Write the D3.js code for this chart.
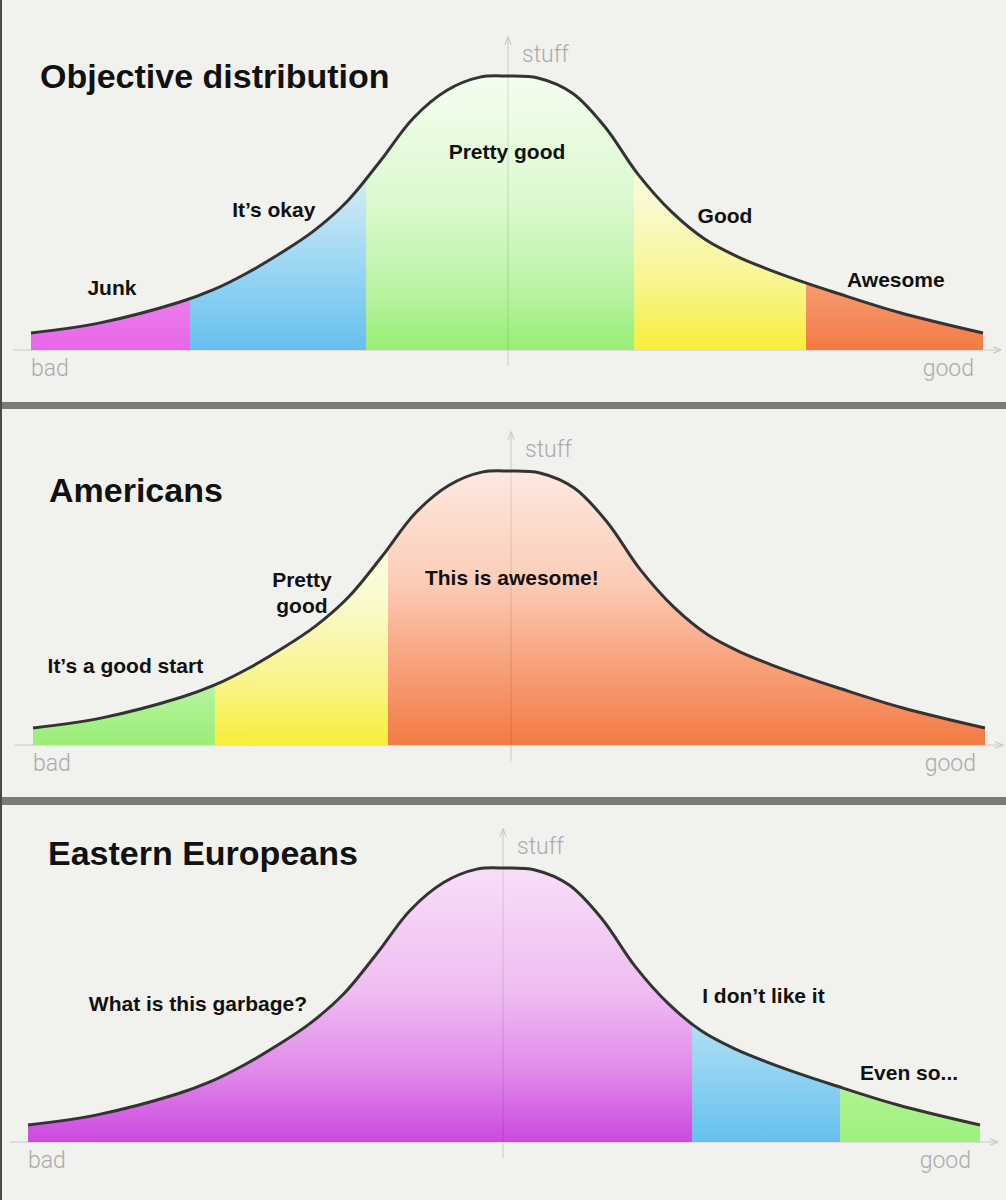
<!DOCTYPE html>
<html>
<head>
<meta charset="utf-8">
<script src="https://cdn.jsdelivr.net/npm/d3@7"></script>
<style>
body{margin:0;background:#f1f1ee}
</style>
</head>
<body>
<script>
// the bell curve (quality -1..1, stuff 0..100)
var quality = [-1, -0.855, -0.687, -0.618, -0.546, -0.477, -0.408, -0.336, -0.267, -0.197, -0.126, -0.057, 0,
               0.065, 0.137, 0.206, 0.275, 0.347, 0.416, 0.485, 0.557, 0.626, 0.689, 0.826, 1]
var stuff   = [6.2, 9.9, 17.5, 21.9, 28.1, 35.2, 43.2, 54.2, 68.8, 84.6, 94.8, 99.6, 100,
               99.3, 93.8, 81.4, 64.2, 50.2, 40.4, 34.0, 28.9, 24.6, 21.0, 13.6, 6.2]

var titles = ["Objective distribution", "Americans", "Eastern Europeans"]

var objectiveBreaks = [-1, -0.666, -0.296, 0.267, 0.628, 1]
var objectiveNames = ["Junk", "It’s okay", "Pretty good", "Good", "Awesome"]
var objectiveColors = ["pink", "blue", "green", "yellow", "orange"]

var americanBreaks = [-1, -0.618, -0.254, 1]
var americanNames = ["It’s a good start", "Pretty|good", "This is awesome!"]
var americanColors = ["green", "yellow", "orange"]

var easternBreaks = [-1, 0.395, 0.706, 1]
var easternNames = ["What is this garbage?", "I don’t like it", "Even so..."]
var easternColors = ["purple", "blue", "lime"]

var axisNames = ["bad", "good", "stuff"]

var width = 1006
var height = 1200

// gradient stops, top of the curve -> baseline
var palette = {
  pink:   [[0,"#f6c6f6"],[0.6,"#ee98ee"],[1,"#e766e8"]],
  blue:   [[0,"#f0f8fc"],[0.4,"#d0eaf7"],[0.7,"#9ad6f2"],[1,"#66c0ee"]],
  green:  [[0,"#f4fdf0"],[0.45,"#dcf9d0"],[0.75,"#bdf4a8"],[1,"#98ee76"]],
  yellow: [[0,"#fefef2"],[0.45,"#fafad2"],[0.75,"#f8f590"],[1,"#f7ee3a"]],
  orange: [[0,"#fde9e0"],[0.4,"#fbcdb8"],[0.7,"#f7a27c"],[1,"#f47a44"]],
  purple: [[0,"#f8def9"],[0.45,"#efbdf1"],[0.75,"#e088ea"],[1,"#cb48df"]],
  lime:   [[0,"#e4fbd8"],[0.6,"#bff5a8"],[1,"#a0f07e"]]
}

var panels = [
  {center:507, base:350, axisX:508, title:[40,88], breaks:objectiveBreaks, names:objectiveNames, colors:objectiveColors,
   labels:[[-0.83,20.1],[-0.49,48.5],[0,69.7],[0.458,46.4],[0.817,23]]},
  {center:509, base:745, axisX:511, title:[49,502], breaks:americanBreaks, names:americanNames, colors:americanColors,
   labels:[[-0.806,26.3],[-0.435,57.7],[0.006,58.4]]},
  {center:504, base:1142, axisX:503, title:[48,865], breaks:easternBreaks, names:easternNames, colors:easternColors,
   labels:[[-0.643,47.8],[0.545,50.7],[0.851,22.6]]}
]

var svg = d3.select("body").append("svg")
  .attr("width", width)
  .attr("height", height)
  .style("display","block")

svg.append("rect").attr("width",width).attr("height",height).attr("fill","#f1f1ee")

var defs = svg.append("defs")
Object.keys(palette).forEach(function(k){
  var g = defs.append("linearGradient").attr("id","grad-"+k)
    .attr("x1",0).attr("y1",0).attr("x2",0).attr("y2",1)
  palette[k].forEach(function(s){
    g.append("stop").attr("offset",s[0]).attr("stop-color",s[1])
  })
})
defs.append("marker").attr("id","arrow")
  .attr("viewBox","0 -5 10 10").attr("refX",8).attr("refY",0)
  .attr("markerWidth",6).attr("markerHeight",6).attr("orient","auto")
  .append("path").attr("d","M0,-3.5L9,0L0,3.5").attr("fill","none")
  .attr("stroke","#c8c8c8").attr("stroke-width",1.2)

var points = quality.map(function(q,k){ return [q, stuff[k]] })
var font = "'Liberation Sans', Arial, sans-serif"

panels.forEach(function(p, i){
  var x = d3.scaleLinear().domain([-1,1]).range([p.center-476, p.center+476])
  var y = d3.scaleLinear().domain([0,100]).range([p.base, p.base-274])
  var g = svg.append("g")

  // axes
  g.append("line")
    .attr("x1", x(-1.038)).attr("x2", x(1.036))
    .attr("y1", p.base).attr("y2", p.base)
    .attr("stroke","#d6d6d4").attr("stroke-width",1.5)
    .attr("marker-end","url(#arrow)")
  g.append("line")
    .attr("x1", p.axisX).attr("x2", p.axisX)
    .attr("y1", p.base+16).attr("y2", y(114))
    .attr("stroke","#d6d6d4").attr("stroke-width",1.5)
    .attr("marker-end","url(#arrow)")

  var area = d3.area()
    .x(function(d){ return x(d[0]) })
    .y0(p.base)
    .y1(function(d){ return y(d[1]) })
    .curve(d3.curveCatmullRom.alpha(0.5))
  var line = d3.line()
    .x(function(d){ return x(d[0]) })
    .y(function(d){ return y(d[1]) })
    .curve(d3.curveCatmullRom.alpha(0.5))

  p.colors.forEach(function(c, j){
    var id = "clip-"+i+"-"+j
    defs.append("clipPath").attr("id",id)
      .append("rect")
      .attr("x", x(p.breaks[j]))
      .attr("width", x(p.breaks[j+1]) - x(p.breaks[j]) + (j < p.colors.length-1 ? 0.5 : 0))
      .attr("y", p.base-300).attr("height", 300)
    g.append("path").datum(points)
      .attr("d", area)
      .attr("fill","url(#grad-"+c+")")
      .attr("clip-path","url(#"+id+")")
  })

  // y axis shows faintly through the fill
  g.append("line")
    .attr("x1", p.axisX).attr("x2", p.axisX)
    .attr("y1", p.base).attr("y2", y(100))
    .attr("stroke","#000").attr("stroke-opacity",0.08).attr("stroke-width",1.5)

  g.append("path").datum(points)
    .attr("d", line)
    .attr("fill","none")
    .attr("stroke","#333")
    .attr("stroke-width",3)

  // axis words
  g.append("text").text(axisNames[0])
    .attr("x", x(-1)).attr("y", p.base+26)
    .attr("font-family","Roboto, sans-serif").attr("font-weight",300)
    .attr("font-size",23).attr("fill","#ababab")
  g.append("text").text(axisNames[1])
    .attr("x", x(1)-9).attr("y", p.base+26)
    .attr("text-anchor","end")
    .attr("font-family","Roboto, sans-serif").attr("font-weight",300)
    .attr("font-size",23).attr("fill","#ababab")
  g.append("text").text(axisNames[2])
    .attr("x", p.axisX+14).attr("y", y(105))
    .attr("font-family","Roboto, sans-serif").attr("font-weight",300)
    .attr("font-size",23).attr("fill","#ababab")

  // title
  g.append("text").text(titles[i])
    .attr("x", p.title[0]).attr("y", p.title[1])
    .attr("font-family", font).attr("font-weight","bold")
    .attr("font-size",34).attr("fill","#111")

  // segment labels
  p.names.forEach(function(n, j){
    var t = g.append("text")
      .attr("x", x(p.labels[j][0])).attr("y", y(p.labels[j][1]))
      .attr("text-anchor","middle")
      .attr("font-family", font).attr("font-weight","bold")
      .attr("font-size",21).attr("fill","#111")
    n.split("|").forEach(function(s, k){
      t.append("tspan").text(s)
        .attr("x", x(p.labels[j][0]))
        .attr("dy", k == 0 ? 0 : 26)
    })
  })
})

// grey bars between the panels and the dark left edge
svg.append("rect").attr("x",0).attr("y",402).attr("width",width).attr("height",7).attr("fill","#7a7a76")
svg.append("rect").attr("x",0).attr("y",797).attr("width",width).attr("height",8).attr("fill","#7a7a76")
svg.append("rect").attr("x",0).attr("y",0).attr("width",2).attr("height",height).attr("fill","#4a4a48")
</script>
</body>
</html>
